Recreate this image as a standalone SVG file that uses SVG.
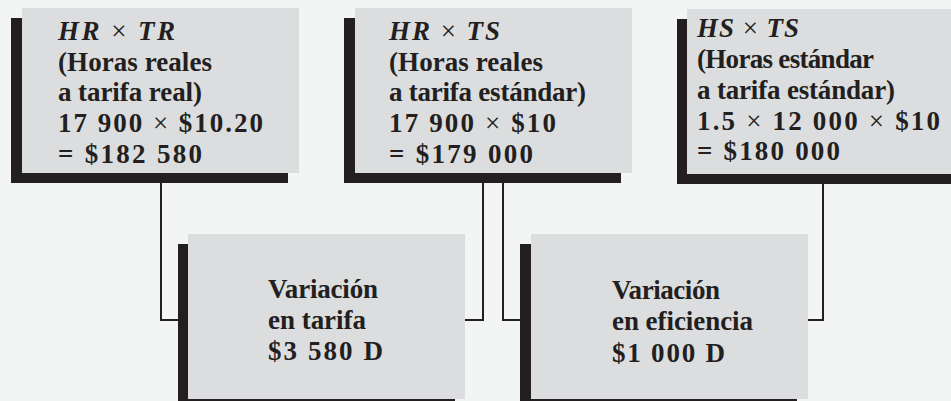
<svg xmlns="http://www.w3.org/2000/svg" width="951" height="401" viewBox="0 0 951 401">
<style>
.bg{fill:#f3f4f4}
.sh{fill:#231f20}
.bx{fill:#dcdddf}
.t{font-family:"Liberation Serif","Times New Roman",serif;font-weight:bold;font-size:27px;fill:#231f20}
.i{font-style:italic}
.x{font-weight:normal}
.c{fill:none;stroke:#231f20;stroke-width:2}
</style>
<rect class="bg" x="0" y="0" width="951" height="401"/>
<g id="connectors">
<polyline class="c" points="161,183 161,320 178,320"/>
<polyline class="c" points="483,183 483,320 465,320"/>
<polyline class="c" points="503,183 503,320 520,320"/>
<polyline class="c" points="823,184 823,320 808,320"/>
</g>
<g id="node-hr-tr">
<rect class="sh" x="11" y="18" width="277" height="165"/>
<rect class="bx" x="22" y="8" width="277" height="165"/>
<text class="t" x="58" y="40" textLength="117" lengthAdjust="spacing"><tspan class="i">HR</tspan> <tspan class="x">×</tspan> <tspan class="i">TR</tspan></text>
<text class="t" x="58" y="71" textLength="154" lengthAdjust="spacing">(Horas reales</text>
<text class="t" x="58" y="101" textLength="144" lengthAdjust="spacing">a tarifa real)</text>
<text class="t" x="58" y="132" textLength="205" lengthAdjust="spacing">17 900 <tspan class="x">×</tspan> $10.20</text>
<text class="t" x="58" y="163" textLength="144" lengthAdjust="spacing">= $182 580</text>
</g>
<g id="node-hr-ts">
<rect class="sh" x="344" y="18" width="277" height="165"/>
<rect class="bx" x="355" y="8" width="277" height="165"/>
<text class="t" x="389" y="40" textLength="111" lengthAdjust="spacing"><tspan class="i">HR</tspan> <tspan class="x">×</tspan> <tspan class="i">TS</tspan></text>
<text class="t" x="389" y="71" textLength="154" lengthAdjust="spacing">(Horas reales</text>
<text class="t" x="389" y="101" textLength="197" lengthAdjust="spacing">a tarifa estándar)</text>
<text class="t" x="389" y="132" textLength="167" lengthAdjust="spacing">17 900 <tspan class="x">×</tspan> $10</text>
<text class="t" x="389" y="163" textLength="144" lengthAdjust="spacing">= $179 000</text>
</g>
<g id="node-hs-ts">
<rect class="sh" x="677" y="19" width="277" height="165"/>
<rect class="bx" x="687" y="9" width="277" height="165"/>
<text class="t" x="697" y="37" textLength="102" lengthAdjust="spacing"><tspan class="i">HS</tspan> <tspan class="x">×</tspan> <tspan class="i">TS</tspan></text>
<text class="t" x="697" y="68" textLength="177" lengthAdjust="spacing">(Horas estándar</text>
<text class="t" x="697" y="99" textLength="198" lengthAdjust="spacing">a tarifa estándar)</text>
<text class="t" x="697" y="130" textLength="243" lengthAdjust="spacing">1.5 <tspan class="x">×</tspan> 12 000 <tspan class="x">×</tspan> $10</text>
<text class="t" x="697" y="160" textLength="143" lengthAdjust="spacing">= $180 000</text>
</g>
<g id="node-var-tarifa">
<rect class="sh" x="178" y="244" width="277" height="165"/>
<rect class="bx" x="188" y="234" width="277" height="165"/>
<text class="t" x="268" y="298" textLength="110" lengthAdjust="spacing">Variación</text>
<text class="t" x="268" y="329" textLength="98" lengthAdjust="spacing">en tarifa</text>
<text class="t" x="268" y="360" textLength="115" lengthAdjust="spacing">$3 580 D</text>
</g>
<g id="node-var-eficiencia">
<rect class="sh" x="520" y="244" width="277" height="165"/>
<rect class="bx" x="531" y="234" width="277" height="165"/>
<text class="t" x="612" y="299" textLength="108" lengthAdjust="spacing">Variación</text>
<text class="t" x="612" y="330" textLength="141" lengthAdjust="spacing">en eficiencia</text>
<text class="t" x="612" y="362" textLength="113" lengthAdjust="spacing">$1 000 D</text>
</g>
</svg>
